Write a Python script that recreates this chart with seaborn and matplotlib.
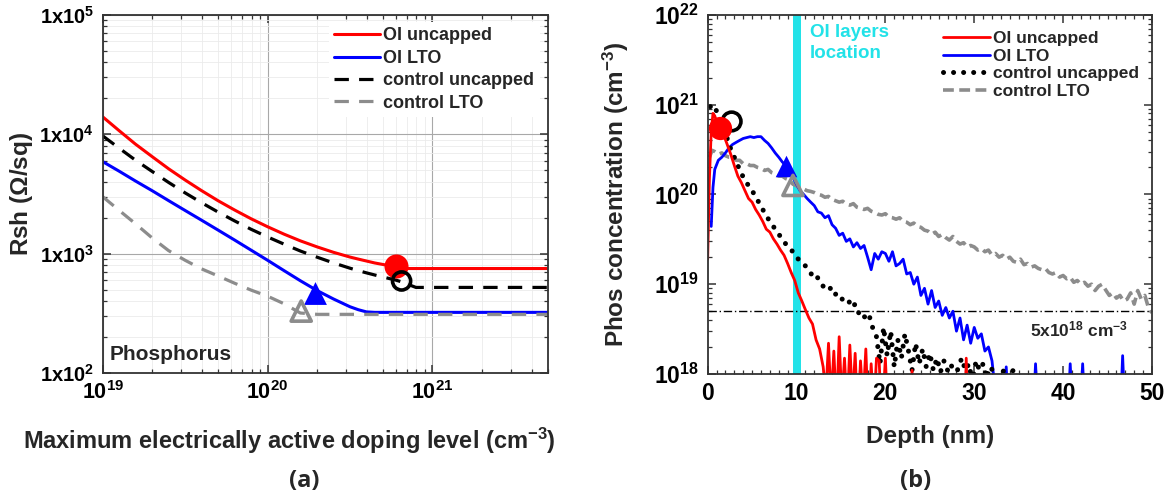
import numpy as np
import pandas as pd
import matplotlib
matplotlib.use("Agg")
import matplotlib.pyplot as plt
from matplotlib.ticker import LogLocator, FuncFormatter, MultipleLocator, NullFormatter
import seaborn as sns

# ---------------- (a) sheet resistance vs. active doping ----------------
doping = [1.00e19, 1.26e19, 1.58e19, 2.00e19, 2.51e19, 3.16e19, 3.98e19, 5.01e19, 6.31e19,
          7.94e19, 1.00e20, 1.26e20, 1.58e20, 2.00e20, 2.51e20, 3.16e20, 3.55e20, 3.98e20,
          4.47e20, 5.01e20, 6.00e20, 6.50e20, 7.94e20, 1.00e21, 2.00e21, 5.00e21]
rsh_oi_uncapped = [14000, 10700, 8270, 6480, 5140, 4140, 3370, 2775, 2320, 1960, 1680,
                   1455, 1280, 1138, 1026, 936, 900, 867, 835, 811, 776, 750, 750, 750,
                   750, 750]
rsh_ctrl_uncapped = [9700, 7640, 6070, 4870, 3950, 3230, 2670, 2230, 1880, 1600, 1380,
                     1200, 1052, 933, 836, 755, 720, 690, 662, 637, 600, 580, 521, 521,
                     521, 521]
rsh_oi_lto = [5900, 4900, 4060, 3360, 2780, 2300, 1905, 1575, 1300, 1070, 880, 720, 593,
              490, 417, 359, 339, 325, 322, 322, 322, 322, 322, 322, 322, 322]
rsh_ctrl_lto = [3000, 2300, 1780, 1350, 1060, 880, 745, 650, 565, 495, 440, 380, 318,
                310, 310, 310, 310, 310, 310, 310, 310, 310, 310, 310, 310, 310]

# measured operating points: (doping, Rsh)
pt_oi_uncapped = (6.0e20, 790)
pt_ctrl_uncapped = (6.5e20, 590)
pt_oi_lto = (1.95e20, 465)
pt_ctrl_lto = (1.6e20, 330)

# ---------------- (b) SIMS phosphorus profiles ----------------
depth_oi_uncapped = [0.0, 0.2, 0.4, 0.6, 0.8, 1.0, 1.4, 1.8, 2.2, 2.6, 3.0, 3.4, 3.8, 4.2, 4.6,
                     5.0, 5.4, 5.8, 6.2, 6.6, 7.0, 7.4, 7.8, 8.2, 8.6, 9.0, 9.4, 9.8, 10.2, 10.6,
                     11.0, 11.4, 11.8, 12.2, 12.6, 13.0, 13.3, 13.6, 13.9, 14.2, 14.5, 14.8, 15.1,
                     15.4, 15.7, 16.0, 16.3, 16.6, 16.9, 17.2, 17.5, 17.8, 18.1, 18.4, 18.7, 19.0,
                     19.3, 19.6, 20.0, 20.3, 20.6, 22.8, 23.0, 23.2, 28.9, 29.1, 29.3, 30.0]
conc_oi_uncapped = [1.9e19, 1.5e20, 5.0e20, 8.0e20, 7.5e20, 6.5e20, 5.5e20, 4.6e20, 3.6e20, 2.8e20,
                    2.1e20, 1.6e20, 1.35e20, 1.1e20, 9.0e19, 8.2e19, 6.8e19, 5.9e19, 5.0e19, 4.1e19,
                    3.8e19, 3.2e19, 2.8e19, 2.4e19, 2.1e19, 1.7e19, 1.35e19, 1.1e19, 8.0e18, 6.5e18,
                    5.2e18, 4.2e18, 3.6e18, 2.4e18, 1.9e18, 1.2e18, 6e17, 2.2e18, 5e17, 1.8e18,
                    4e17, 2.6e18, 5e17, 1.5e18, 4e17, 2.1e18, 5e17, 1.7e18, 3e17, 1.4e18,
                    5e17, 1.9e18, 3e17, 1.3e18, 4e17, 1.5e18, 1.4e18, 3e17, 1.5e18, 3e17,
                    2e17, 2e17, 1.1e18, 2e17, 2e17, 1.5e18, 2e17, 2e17]

depth_oi_lto = [0.4, 0.6, 0.8, 1.2, 1.6, 2.0, 2.4, 2.8, 3.2, 3.6, 4.0, 4.4, 4.8, 5.2, 5.6, 6.0,
                6.4, 6.8, 7.2, 7.6, 8.0, 8.4, 8.8, 9.2, 9.6, 10.0, 10.4, 10.8, 11.2, 11.6, 12.0,
                12.4, 12.8, 13.2, 13.6, 14.0, 14.4, 14.8, 15.2, 15.6, 16.0, 16.4, 16.8, 17.2,
                17.6, 18.0, 18.4, 18.8, 19.2, 19.6, 20.0, 20.4, 20.8, 21.2, 21.6, 22.0, 22.4,
                22.8, 23.2, 23.6, 24.0, 24.4, 24.8, 25.2, 25.6, 26.0, 26.4, 26.8, 27.2, 27.6,
                28.0, 28.4, 28.8, 29.2, 29.6, 30.0, 30.4, 30.8, 31.2, 31.6, 32.0, 32.4, 33.4,
                33.6, 33.8, 36.7, 36.9, 37.1, 40.6, 40.8, 41.0, 42.0, 42.2, 42.4, 46.5, 46.7,
                46.9, 50.0]
conc_oi_lto = [4.4e19, 1.2e20, 1.9e20, 2.4e20, 2.6e20, 2.9e20, 3.3e20, 3.6e20, 3.8e20, 4.0e20,
               4.2e20, 4.3e20, 4.4e20, 4.3e20, 4.4e20, 4.4e20, 4.0e20, 3.7e20, 3.3e20, 2.9e20,
               2.6e20, 2.3e20, 2.1e20, 1.8e20, 1.55e20, 1.3e20, 1.1e20, 1.0e20, 9.0e19, 8.2e19,
               7.5e19, 6.4e19, 6.2e19, 5.5e19, 5.8e19, 4.6e19, 4.2e19, 3.5e19, 3.7e19, 3.0e19,
               3.2e19, 2.6e19, 2.9e19, 2.5e19, 2.7e19, 2.0e19, 1.45e19, 2.2e19, 1.9e19, 2.3e19,
               2.2e19, 1.8e19, 2.3e19, 1.6e19, 1.7e19, 1.9e19, 1.3e19, 1.35e19, 1.0e19, 1.2e19,
               7.5e18, 9.0e18, 6.0e18, 8.5e18, 5.5e18, 6.5e18, 4.5e18, 5.5e18, 4.2e18, 5.0e18,
               3.0e18, 4.2e18, 2.4e18, 3.5e18, 2.2e18, 3.3e18, 2.5e18, 2.8e18, 1.8e18, 2.0e18,
               1.4e18, 6e17, 5e17, 1.2e18, 5e17, 5e17, 1.3e18, 5e17, 5e17, 1.3e18,
               5e17, 5e17, 1.3e18, 5e17, 5e17, 1.6e18, 5e17, 5e17]

depth_ctrl_uncapped = [0.3, 0.6, 1.0, 1.4, 1.8, 2.2, 2.6, 3.0, 3.4, 3.8, 4.2, 4.6, 5.0, 5.4, 5.8,
                       6.2, 6.6, 7.0, 7.4, 7.8, 8.2, 8.6, 9.0, 9.4, 9.8, 10.2, 10.6, 11.0, 11.4,
                       11.8, 12.2, 12.6, 13.0, 13.4, 13.8, 14.2, 14.6, 15.0, 15.4, 15.8, 16.2,
                       16.6, 17.0, 17.4, 17.8, 18.2, 18.6, 19.0, 19.4, 19.8, 20.2, 20.6, 21.0,
                       21.4, 21.8, 22.2, 22.6, 23.0, 23.4, 23.8, 24.2, 24.6, 25.0, 25.4, 25.8,
                       26.2, 26.6, 27.0, 27.4, 27.8, 28.2, 28.6, 29.0, 29.4, 29.8, 30.2, 30.6,
                       31.0, 31.4, 31.8, 32.2, 32.6, 33.0, 33.6, 34.2, 34.8, 35.2]
conc_ctrl_uncapped = [9.5e20, 1.0e21, 8.5e20, 7.0e20, 5.5e20, 4.2e20, 3.2e20, 2.6e20, 2.1e20,
                      1.7e20, 1.45e20, 1.25e20, 1.1e20, 9.5e19, 8.0e19, 6.8e19, 5.8e19, 5.0e19,
                      4.4e19, 3.8e19, 3.4e19, 3.0e19, 2.6e19, 2.4e19, 2.2e19, 1.9e19, 1.7e19,
                      1.6e19, 1.4e19, 1.25e19, 1.3e19, 1.05e19, 9.5e18, 8.5e18, 9.0e18, 7.5e18,
                      8.0e18, 7.0e18, 6.5e18, 6.8e18, 5.5e18, 6.0e18, 4.8e18, 5.0e18, 4.0e18,
                      4.4e18, 3.2e18, 2.6e18, 1.3e18, 3.3e18, 1.6e18, 3.0e18, 1.2e18, 2.4e18,
                      1.5e18, 2.8e18, 1.8e18, 1.1e18, 2.2e18, 1.3e18, 1.9e18, 1.2e18, 1.7e18,
                      1.1e18, 1.5e18, 1.05e18, 1.4e18, 1.1e18, 1.3e18, 8e17, 1.2e18, 1.5e18,
                      1.1e18, 1.3e18, 8e17, 1.4e18, 1.1e18, 1.3e18, 9e17, 1.2e18, 1.05e18,
                      8e17, 1.1e18, 1.05e18, 1.1e18, 1.05e18, 8e17]

depth_ctrl_lto = [0.2, 0.5, 0.8, 1.2, 1.6, 2.0, 2.4, 2.8, 3.2, 3.6, 4.0, 4.4, 4.8, 5.2, 5.6,
                  6.0, 6.4, 6.8, 7.2, 7.6, 8.0, 8.4, 8.8, 9.2, 9.6, 10.0, 10.4, 10.8, 11.2,
                  11.6, 12.0, 12.4, 12.8, 13.2, 13.6, 14.0, 14.4, 14.8, 15.2, 15.6, 16.0,
                  16.4, 16.8, 17.2, 17.6, 18.0, 18.4, 18.8, 19.2, 19.6, 20.0, 20.4, 20.8,
                  21.2, 21.6, 22.0, 22.4, 22.8, 23.2, 23.6, 24.0, 24.4, 24.8, 25.2, 25.6,
                  26.0, 26.4, 26.8, 27.2, 27.6, 28.0, 28.4, 28.8, 29.2, 29.6, 30.0, 30.4,
                  30.8, 31.2, 31.6, 32.0, 32.4, 32.8, 33.2, 33.6, 34.0, 34.4, 34.8, 35.2,
                  35.6, 36.0, 36.4, 36.8, 37.2, 37.6, 38.0, 38.4, 38.8, 39.2, 39.6, 40.0,
                  40.4, 40.8, 41.2, 41.6, 42.0, 42.4, 42.8, 43.2, 43.6, 44.0, 44.4, 44.8,
                  45.2, 45.6, 46.0, 46.4, 46.8, 47.2, 47.6, 48.0, 48.4, 48.8, 49.2, 49.6, 50.0]
conc_ctrl_lto = [2.6e20, 3.1e20, 3.0e20, 2.8e20, 2.9e20, 2.7e20, 2.6e20, 2.6e20, 2.4e20, 2.4e20,
                 2.2e20, 2.2e20, 2.1e20, 2.1e20, 2.0e20, 1.95e20, 1.85e20, 1.9e20, 1.75e20,
                 1.7e20, 1.6e20, 1.6e20, 1.5e20, 1.45e20, 1.3e20, 1.25e20, 1.15e20, 1.15e20,
                 1.1e20, 1.08e20, 1.05e20, 1.0e20, 9.8e19, 9.3e19, 9.5e19, 8.8e19, 8.5e19,
                 8.2e19, 8.4e19, 7.8e19, 7.6e19, 7.9e19, 7.2e19, 7.0e19, 6.8e19, 7.0e19,
                 6.5e19, 6.3e19, 6.0e19, 5.9e19, 6.1e19, 5.6e19, 5.5e19, 5.3e19, 5.5e19,
                 5.0e19, 4.9e19, 4.6e19, 4.8e19, 4.4e19, 4.3e19, 4.0e19, 3.9e19, 3.6e19,
                 3.8e19, 3.4e19, 3.6e19, 3.3e19, 3.1e19, 3.4e19, 3.0e19, 2.8e19, 2.9e19,
                 2.6e19, 2.7e19, 2.6e19, 2.4e19, 2.5e19, 2.3e19, 2.4e19, 2.1e19, 2.2e19,
                 2.0e19, 2.1e19, 1.9e19, 2.0e19, 1.8e19, 1.75e19, 1.9e19, 1.65e19, 1.7e19,
                 1.55e19, 1.6e19, 1.5e19, 1.45e19, 1.5e19, 1.35e19, 1.3e19, 1.35e19, 1.2e19,
                 1.25e19, 1.15e19, 1.2e19, 1.05e19, 1.1e19, 1.0e19, 1.05e19, 9.5e18, 1.0e19,
                 8.5e18, 9.5e18, 1.0e19, 8.6e18, 7.5e18, 8.0e18, 7.0e18, 7.5e18, 6.5e18,
                 6.8e18, 8.0e18, 6.0e18, 8.5e18, 6.8e18, 7.5e18, 5.5e18, 4.8e18]

# SIMS reference points: (depth, concentration)
sims_oi_uncapped = (1.4, 5.5e20)
sims_ctrl_uncapped = (2.7, 6.5e20)
sims_oi_lto = (8.8, 2.1e20)
sims_ctrl_lto = (9.6, 1.26e20)

threshold = 5e18
oi_layer_span = (9.6, 10.5)

series_labels = ["OI uncapped", "OI LTO", "control uncapped", "control LTO"]

# ---------------- style ----------------
sns.set_style("ticks")
plt.rcParams["font.family"] = ["Liberation Sans", "DejaVu Sans"]
plt.rcParams["font.weight"] = "bold"
plt.rcParams["axes.labelweight"] = "bold"
plt.rcParams["mathtext.fontset"] = "custom"
plt.rcParams["mathtext.rm"] = "Liberation Sans:bold"
plt.rcParams["mathtext.it"] = "Liberation Sans:bold"
plt.rcParams["mathtext.bf"] = "Liberation Sans:bold"
plt.rcParams["axes.linewidth"] = 1.3
plt.rcParams["axes.edgecolor"] = "#333333"

RED, BLUE, BLACK, GRAY = "#ff0000", "#0000ff", "#000000", "#8c8c8c"
CYAN = "#22e2e8"

fig = plt.figure(figsize=(11.72, 4.96), dpi=100)
ax1 = fig.add_axes([0.0876, 0.248, 0.3797, 0.722])
ax2 = fig.add_axes([0.6038, 0.246, 0.3791, 0.724])


def curve(ax, x, y, color, lw, label, ls="-", **kw):
    df = pd.DataFrame({"x": x, "y": y})
    sns.lineplot(data=df, x="x", y="y", ax=ax, color=color, linewidth=lw,
                 linestyle=ls, estimator=None, sort=False, label=label, **kw)


def point(ax, xy, marker, size, face, edge, lw=0, z=6):
    df = pd.DataFrame({"x": [xy[0]], "y": [xy[1]]})
    sns.scatterplot(data=df, x="x", y="y", ax=ax, marker=marker, s=size,
                    color=face, edgecolor=edge, linewidth=lw, zorder=z, legend=False)


# ---- panel (a) ----
curve(ax1, doping, rsh_oi_uncapped, RED, 2.2, series_labels[0])
curve(ax1, doping, rsh_oi_lto, BLUE, 2.2, series_labels[1])
curve(ax1, doping, rsh_ctrl_uncapped, BLACK, 2.3, series_labels[2], ls=(0, (4.5, 3.2)))
curve(ax1, doping, rsh_ctrl_lto, GRAY, 2.3, series_labels[3], ls=(0, (4.5, 3.2)))
point(ax1, pt_oi_uncapped, "o", 300, RED, RED)
point(ax1, pt_ctrl_uncapped, "o", 170, "none", BLACK, lw=2.6)
point(ax1, pt_oi_lto, "^", 270, BLUE, BLUE)
point(ax1, pt_ctrl_lto, "^", 210, "none", GRAY, lw=2.6)

ax1.set_xscale("log")
ax1.set_yscale("log")
ax1.set_xlim(1e19, 5e21)
ax1.set_ylim(1e2, 1e5)
ax1.xaxis.set_major_locator(LogLocator(base=10, numticks=10))
ax1.xaxis.set_minor_locator(LogLocator(base=10, subs=np.arange(2, 10), numticks=20))
ax1.yaxis.set_major_locator(LogLocator(base=10, numticks=10))
ax1.yaxis.set_minor_locator(LogLocator(base=10, subs=np.arange(2, 10), numticks=20))
ax1.xaxis.set_major_formatter(FuncFormatter(lambda v, p: r"10$^{%d}$" % round(np.log10(v))))
ax1.yaxis.set_major_formatter(FuncFormatter(lambda v, p: r"1x10$^{%d}$" % round(np.log10(v))))
ax1.xaxis.set_minor_formatter(NullFormatter())
ax1.yaxis.set_minor_formatter(NullFormatter())
ax1.grid(which="major", color="#a8a8a8", linewidth=0.8)
ax1.grid(which="minor", color="#ebebeb", linewidth=0.6)
ax1.set_axisbelow(True)
ax1.tick_params(which="both", direction="in", top=True, right=True, colors="#333333",
                labelcolor="black")
ax1.tick_params(axis="x", which="major", length=6, width=1.1, labelsize=15.5, pad=6)
ax1.tick_params(axis="y", which="major", length=6, width=1.1, labelsize=14.5, pad=6)
ax1.tick_params(which="minor", length=3, width=0.9)
ax1.set_xlabel(r"Maximum electrically active doping level (cm$^{-3}$)", fontsize=17)
ax1.set_ylabel(r"Rsh ($\Omega$/sq)", fontsize=17.5)
ax1.xaxis.label.set_va("center")
ax1.xaxis.set_label_coords(0.42, -0.19)
ax1.yaxis.set_label_coords(-0.152, 0.5)
ax1.text(0.016, 0.025, "Phosphorus", transform=ax1.transAxes, fontsize=15,
         fontweight="bold", ha="left", va="bottom")
ax1.legend(loc="upper right", bbox_to_anchor=(0.99, 0.99), fontsize=13,
           handlelength=2.5, handletextpad=0.2, labelspacing=0.3,
           frameon=True, framealpha=1, facecolor="white", edgecolor="none",
           borderaxespad=0.2, borderpad=0.3)

# ---- panel (b) ----
ax2.axvspan(*oi_layer_span, color=CYAN, zorder=1, linewidth=0)
ax2.axhline(threshold, color="black", linewidth=1.0, linestyle=(0, (6, 2, 1, 2)), zorder=2)
curve(ax2, depth_ctrl_lto, conc_ctrl_lto, GRAY, 2.6, series_labels[3], ls=(0, (3, 1.5)))
curve(ax2, depth_oi_lto, conc_oi_lto, BLUE, 2.0, series_labels[1])
curve(ax2, depth_ctrl_uncapped, conc_ctrl_uncapped, BLACK, 3.6, series_labels[2],
      ls=(0, (0.01, 2.0)), dash_capstyle="round")
curve(ax2, depth_oi_uncapped, conc_oi_uncapped, RED, 2.0, series_labels[0])
point(ax2, sims_ctrl_uncapped, "o", 180, "none", BLACK, lw=2.6)
point(ax2, sims_oi_uncapped, "o", 280, RED, RED)
point(ax2, sims_oi_lto, "^", 240, BLUE, BLUE)
point(ax2, sims_ctrl_lto, "^", 210, "none", GRAY, lw=2.6)

ax2.set_yscale("log")
ax2.set_xlim(0, 50)
ax2.set_ylim(1e18, 1e22)
ax2.xaxis.set_major_locator(MultipleLocator(10))
ax2.xaxis.set_minor_locator(MultipleLocator(1))
ax2.yaxis.set_major_locator(LogLocator(base=10, numticks=10))
ax2.yaxis.set_minor_locator(LogLocator(base=10, subs=np.arange(2, 10), numticks=20))
ax2.yaxis.set_major_formatter(FuncFormatter(lambda v, p: r"10$^{%d}$" % round(np.log10(v))))
ax2.yaxis.set_minor_formatter(NullFormatter())
ax2.tick_params(which="both", direction="in", top=True, right=True, colors="#333333",
                labelcolor="black")
ax2.tick_params(which="major", length=6, width=1.1, labelsize=16.5, pad=6)
ax2.tick_params(which="minor", length=3, width=0.9)
ax2.set_xlabel("Depth (nm)", fontsize=17.5)
ax2.set_ylabel(r"Phos concentration (cm$^{-3}$)", fontsize=17.5)
ax2.xaxis.label.set_va("center")
ax2.xaxis.set_label_coords(0.5, -0.175)
ax2.yaxis.set_label_coords(-0.172, 0.5)
ax2.text(0.23, 0.975, "OI layers\nlocation", transform=ax2.transAxes, color=CYAN,
         fontsize=13.5, fontweight="bold", ha="left", va="top", linespacing=1.35)
ax2.text(0.725, 0.123, r"5x10$^{18}$ cm$^{-3}$", transform=ax2.transAxes,
         fontsize=12.5, fontweight="bold", ha="left", va="center")
handles, labels = ax2.get_legend_handles_labels()
order = [labels.index(l) for l in series_labels]
ax2.legend([handles[i] for i in order], [labels[i] for i in order],
           loc="upper right", bbox_to_anchor=(0.995, 0.985), fontsize=12.5,
           handlelength=2.7, handletextpad=0.2, labelspacing=0.15,
           frameon=False, borderaxespad=0.2)

fig.text(0.26, 0.03, "(a)", fontsize=17, fontweight="bold", ha="center", va="center",
         family=["Open Sans", "DejaVu Sans"])
fig.text(0.781, 0.03, "(b)", fontsize=17, fontweight="bold", ha="center", va="center",
         family=["Open Sans", "DejaVu Sans"])

fig.savefig("out.png", dpi=100, facecolor="white")
